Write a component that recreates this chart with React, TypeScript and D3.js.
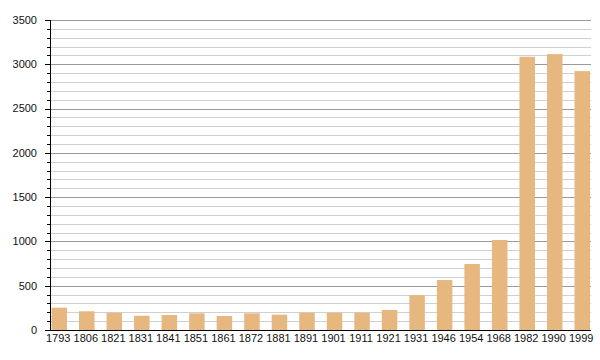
import React from "react";
import * as d3 from "d3";

const years = ["1793","1806","1821","1831","1841","1851","1861","1872","1881","1891","1901","1911","1921","1931","1946","1954","1968","1982","1990","1999"];
const population = [252, 211, 195, 161, 169, 188, 158, 188, 173, 195, 195, 195, 226, 392, 564, 745, 1016, 3085, 3115, 2923];
const yTicks = [0, 500, 1000, 1500, 2000, 2500, 3000, 3500];

const W = 600, H = 360;
const left = 50, right = 590, top = 20, bottom = 330;

export default function App() {
  const x = d3.scaleBand<string>().domain(years).range([51.5, 590]).paddingInner(0.437).paddingOuter(0).align(0);
  const y = d3.scaleLinear().domain([0, 3500]).range([bottom, top]);
  const minor = d3.range(0, 3501, 100);
  return (
    <svg width={W} height={H} style={{ position: "absolute", left: 0, top: 0 }} fontFamily="'Liberation Sans', Arial, sans-serif">
      <rect width={W} height={H} fill="#fff" />
      {minor.map((v) => {
        const major = v % 500 === 0;
        return (
          <g key={v}>
            {v > 0 && (
              <line x1={left} x2={right + 1} y1={Math.round(y(v)) + 0.5} y2={Math.round(y(v)) + 0.5}
                stroke={major ? "#9a9a9a" : "#d0d0d0"} strokeWidth={1} />
            )}
            <line x1={left - (major ? 5 : 3)} x2={left} y1={Math.round(y(v)) + 0.5} y2={Math.round(y(v)) + 0.5} stroke="#000" strokeWidth={1} />
          </g>
        );
      })}
      {years.map((yr, i) => (
        <rect key={yr} x={x(yr)} width={x.bandwidth()} y={y(population[i])} height={bottom - y(population[i])} fill="#e6b77e" />
      ))}
      <line x1={left + 0.5} x2={left + 0.5} y1={top} y2={bottom + 1} stroke="#000" />
      <line x1={left} x2={right + 1} y1={bottom + 0.5} y2={bottom + 0.5} stroke="#000" />
      {yTicks.map((v) => (
        <text key={v} x={37} y={y(v)} dy="0.35em" textAnchor="end" fontSize={11} fill="#111">{v}</text>
      ))}
      {years.map((yr) => (
        <text key={yr} x={(x(yr) as number) + x.bandwidth() / 2 - 1} y={342} textAnchor="middle" fontSize={11} fill="#111">{yr}</text>
      ))}
    </svg>
  );
}
